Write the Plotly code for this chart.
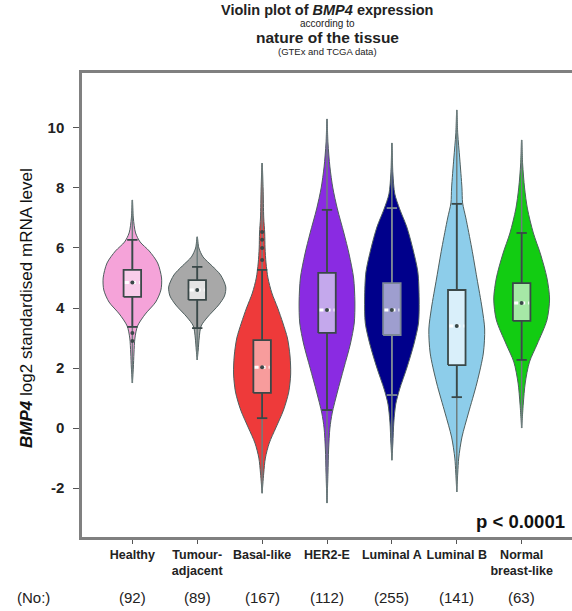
import plotly.graph_objects as go

# ---------------- data ----------------
categories = ["Healthy", "Tumour-<br>adjacent", "Basal-like", "HER2-E", "Luminal A", "Luminal B", "Normal<br>breast-like"]
counts = ["(92)", "(89)", "(167)", "(112)", "(255)", "(141)", "(63)"]

# box statistics
q1 = [4.37, 4.27, 1.17, 3.17, 3.10, 2.10, 3.57]
median = [4.85, 4.60, 2.03, 3.93, 3.93, 3.40, 4.17]
q3 = [5.27, 4.93, 2.93, 5.17, 4.83, 4.60, 4.83]
lower_fence = [3.37, 3.33, 0.33, 0.60, 1.10, 1.03, 2.27]
upper_fence = [6.27, 5.37, 5.27, 7.27, 7.33, 7.47, 6.50]

# violin outlines: y levels and half-widths (x-axis units)
healthy_y = [7.6, 7.0, 6.5, 6.2, 5.9, 5.5, 5.0, 4.6, 4.2, 3.8, 3.4, 3.0, 2.5, 2.0, 1.5]
healthy_w = [0.0, 0.015, 0.05, 0.12, 0.26, 0.39, 0.45, 0.44, 0.36, 0.20, 0.08, 0.04, 0.025, 0.015, 0.0]

tumour_y = [6.37, 6.0, 5.7, 5.4, 5.1, 4.7, 4.4, 4.1, 3.7, 3.4, 3.0, 2.6, 2.27]
tumour_w = [0.0, 0.025, 0.09, 0.23, 0.36, 0.44, 0.42, 0.33, 0.16, 0.06, 0.03, 0.015, 0.0]

basal_y = [8.83, 8.0, 7.0, 6.5, 6.0, 5.5, 5.0, 4.5, 4.0, 3.5, 3.0, 2.4, 1.8, 1.2, 0.6, 0.0, -0.5, -1.0, -1.5, -2.17]
basal_w = [0.0, 0.015, 0.025, 0.04, 0.045, 0.06, 0.09, 0.15, 0.24, 0.32, 0.39, 0.43, 0.44, 0.41, 0.33, 0.21, 0.11, 0.05, 0.025, 0.0]

her2_y = [10.3, 9.5, 8.7, 8.0, 7.3, 6.5, 5.8, 5.0, 4.2, 3.5, 2.8, 2.0, 1.2, 0.5, 0.0, -0.7, -1.5, -2.5]
her2_w = [0.0, 0.015, 0.045, 0.09, 0.16, 0.26, 0.34, 0.41, 0.43, 0.42, 0.36, 0.26, 0.16, 0.08, 0.045, 0.025, 0.015, 0.0]

luma_y = [9.5, 8.5, 7.8, 7.3, 6.7, 6.0, 5.2, 4.3, 3.5, 2.8, 2.0, 1.3, 0.8, 0.2, -0.5, -1.07]
luma_w = [0.0, 0.015, 0.045, 0.12, 0.23, 0.32, 0.40, 0.42, 0.41, 0.34, 0.23, 0.12, 0.06, 0.03, 0.015, 0.0]

lumb_y = [10.6, 9.8, 9.0, 8.0, 7.5, 7.0, 6.0, 5.0, 4.0, 3.3, 2.5, 1.5, 0.5, -0.3, -1.0, -1.5, -2.13]
lumb_w = [0.0, 0.015, 0.045, 0.08, 0.09, 0.14, 0.23, 0.31, 0.39, 0.43, 0.41, 0.31, 0.18, 0.08, 0.03, 0.015, 0.0]

normal_y = [9.6, 8.8, 8.0, 7.3, 6.5, 5.8, 5.0, 4.3, 3.6, 2.8, 2.2, 1.5, 0.8, 0.0]
normal_w = [0.0, 0.015, 0.045, 0.09, 0.18, 0.29, 0.39, 0.43, 0.39, 0.24, 0.12, 0.055, 0.025, 0.0]

outliers_y = [[3.17, 2.9], [], [6.53, 6.27, 6.0, 5.6], [], [], [], []]

violin_colors = ["#F5A3D9", "#A8A8A8", "#EE3A3A", "#8A2BE2", "#00008B", "#8DCDEA", "#12CC12"]
box_colors = ["#F9CDEA", "#E4E4E4", "#F79C9C", "#C4A8EC", "#9E9ECF", "#D9EFFA", "#A6E8A6"]
box_line_colors = ["#3A4848", "#3A4848", "#3A4848", "#3A4848", "#7C8896", "#3A4848", "#3A4848"]

profiles = [(healthy_y, healthy_w), (tumour_y, tumour_w), (basal_y, basal_w), (her2_y, her2_w),
            (luma_y, luma_w), (lumb_y, lumb_w), (normal_y, normal_w)]

FONT = "Liberation Sans, Arial, sans-serif"
OUTLINE = "#4E5E5E"
DARK = "#3A4848"
BOXW = 0.27
CAPW = 0.16

fig = go.Figure()

for i, (ys, ws) in enumerate(profiles):
    # violin body
    xs = [i - w for w in ws] + [i + w for w in reversed(ws)]
    yy = list(ys) + list(reversed(ys))
    fig.add_trace(go.Scatter(x=xs, y=yy, mode="lines", fill="toself",
                             fillcolor=violin_colors[i],
                             line=dict(color=OUTLINE, width=1, shape="spline", smoothing=0.8),
                             hoverinfo="skip", showlegend=False))
    # thin tail line through the full range
    fig.add_trace(go.Scatter(x=[i, i], y=[min(ys), max(ys)], mode="lines",
                             line=dict(color="#6E7E7E", width=1.5),
                             hoverinfo="skip", showlegend=False))
    # whisker + caps
    fig.add_trace(go.Scatter(
        x=[i, i, None, i - CAPW / 2, i + CAPW / 2, None, i - CAPW / 2, i + CAPW / 2],
        y=[lower_fence[i], upper_fence[i], None, upper_fence[i], upper_fence[i], None,
           lower_fence[i], lower_fence[i]],
        mode="lines", line=dict(color=box_line_colors[i], width=1.8),
        hoverinfo="skip", showlegend=False))
    # box
    fig.add_trace(go.Scatter(
        x=[i - BOXW / 2, i + BOXW / 2, i + BOXW / 2, i - BOXW / 2, i - BOXW / 2],
        y=[q1[i], q1[i], q3[i], q3[i], q1[i]],
        mode="lines", fill="toself", fillcolor=box_colors[i],
        line=dict(color=box_line_colors[i], width=1.8),
        hoverinfo="skip", showlegend=False))
    # median
    fig.add_trace(go.Scatter(x=[i - BOXW / 2 + 0.02, i + BOXW / 2 - 0.02], y=[median[i], median[i]],
                             mode="lines", line=dict(color="white", width=3, dash="4px,3px"),
                             hoverinfo="skip", showlegend=False))
    fig.add_trace(go.Scatter(x=[i], y=[median[i]], mode="markers",
                             marker=dict(color=DARK, size=4),
                             hoverinfo="skip", showlegend=False))
    if outliers_y[i]:
        fig.add_trace(go.Scatter(x=[i] * len(outliers_y[i]), y=outliers_y[i], mode="markers",
                                 marker=dict(color=DARK, size=4),
                                 hoverinfo="skip", showlegend=False))

annotations = []
titles = [("<b>Violin plot of <i>BMP4</i> expression</b>", 14.5, 1.136),
          ("according to", 10, 1.106),
          ("<b>nature of the tissue</b>", 15.5, 1.076),
          ("(GTEx and TCGA data)", 9.5, 1.046)]
for txt, sz, yy in titles:
    annotations.append(dict(text=txt, x=0.5, y=yy, xref="paper", yref="paper",
                            showarrow=False, xanchor="center", yanchor="middle",
                            font=dict(family=FONT, size=sz, color="#222")))
annotations.append(dict(text="<b><i>BMP4</i></b> log2 standardised mRNA level", textangle=-90,
                        x=-0.112, y=0.494, xref="paper", yref="paper", showarrow=False,
                        xanchor="center", yanchor="middle",
                        font=dict(family=FONT, size=17, color="#111")))
annotations.append(dict(text="<b>p < 0.0001</b>", x=0.99, y=0.033, xref="paper", yref="paper",
                        showarrow=False, xanchor="right", yanchor="middle",
                        font=dict(family=FONT, size=18.5, color="#111")))
annotations.append(dict(text="(No:)", x=-0.1, y=-0.13, xref="paper", yref="paper",
                        showarrow=False, xanchor="center", yanchor="middle",
                        font=dict(family=FONT, size=15, color="#222")))
for i, c in enumerate(counts):
    annotations.append(dict(text=c, x=i, y=-0.13, xref="x", yref="paper",
                            showarrow=False, xanchor="center", yanchor="middle",
                            font=dict(family=FONT, size=15, color="#222")))

fig.update_layout(
    width=572, height=611,
    margin=dict(l=82, r=0, t=73, b=74),
    paper_bgcolor="white", plot_bgcolor="white",
    showlegend=False,
    annotations=annotations,
    xaxis=dict(range=[-0.776, 6.776], tickmode="array", tickvals=list(range(7)),
               ticktext=["<b>%s</b>" % c for c in categories],
               showgrid=False, zeroline=False, showline=True, linecolor="#808080", linewidth=2.5,
               mirror=True, ticks="outside", ticklen=4, tickcolor="#555",
               tickfont=dict(family=FONT, size=12.5, color="#222")),
    yaxis=dict(range=[-3.63, 11.83], tickmode="array", tickvals=[-2, 0, 2, 4, 6, 8, 10],
               ticktext=["<b>%d</b>" % v for v in [-2, 0, 2, 4, 6, 8, 10]],
               showgrid=False, zeroline=False, showline=True, linecolor="#808080", linewidth=2.5,
               ticks="outside", ticklen=6, tickcolor="#555", ticklabelstandoff=6,
               tickfont=dict(family=FONT, size=15, color="#222")),
)

fig.write_html("out.html", config={"displayModeBar": False},
               post_script="document.body.style.margin='0';")
